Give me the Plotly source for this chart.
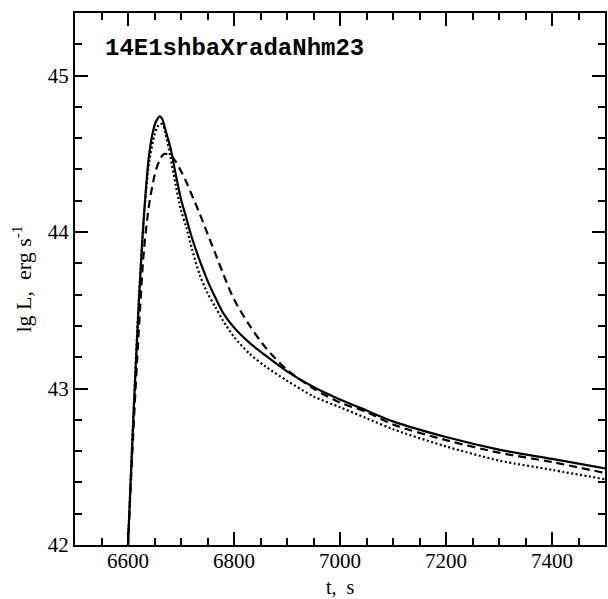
import plotly.graph_objects as go

t = [6597, 6600, 6610, 6620, 6630, 6640, 6650, 6655, 6660, 6665, 6670, 6680, 6690,
     6700, 6710, 6720, 6735, 6750, 6765, 6780, 6800, 6830, 6860, 6900, 6950, 7000,
     7050, 7100, 7200, 7300, 7400, 7500]

lum_solid = [41.75, 42.00, 42.80, 43.52, 44.10, 44.50, 44.68, 44.72, 44.74, 44.72, 44.66,
             44.54, 44.37, 44.21, 44.09, 43.97, 43.82, 43.69, 43.58, 43.48, 43.39, 43.29,
             43.21, 43.11, 43.01, 42.93, 42.86, 42.79, 42.69, 42.61, 42.55, 42.49]

lum_dashed = [41.75, 42.00, 42.72, 43.35, 43.88, 44.18, 44.36, 44.42, 44.46, 44.49, 44.50,
              44.49, 44.45, 44.39, 44.32, 44.24, 44.12, 43.99, 43.86, 43.73, 43.57, 43.40,
              43.26, 43.12, 43.00, 42.91, 42.85, 42.77, 42.67, 42.59, 42.53, 42.46]

lum_dotted = [41.75, 42.00, 42.82, 43.54, 44.10, 44.45, 44.62, 44.67, 44.69, 44.69, 44.64,
              44.48, 44.30, 44.14, 44.03, 43.90, 43.73, 43.61, 43.52, 43.43, 43.33, 43.22,
              43.14, 43.05, 42.95, 42.88, 42.81, 42.74, 42.63, 42.54, 42.48, 42.42]

x_ticks = [6600, 6800, 7000, 7200, 7400]
y_ticks = [42, 43, 44, 45]
label_text = "14E1shbaXradaNhm23"

fig = go.Figure()
fig.add_trace(go.Scatter(x=t, y=lum_dotted, mode="lines",
                         line=dict(color="black", width=2.2, dash="2px,2.5px",
                                   shape="spline", smoothing=0.8)))
fig.add_trace(go.Scatter(x=t, y=lum_dashed, mode="lines",
                         line=dict(color="black", width=2.2, dash="8px,5px",
                                   shape="spline", smoothing=0.8)))
fig.add_trace(go.Scatter(x=t, y=lum_solid, mode="lines",
                         line=dict(color="black", width=2.2,
                                   shape="spline", smoothing=0.8)))

tickfont = dict(family="Liberation Serif, serif", size=21, color="black")
fig.update_xaxes(range=[6500, 7500], tickvals=x_ticks, ticks="inside", ticklen=13,
                 tickwidth=1.5, tickcolor="black", showline=True, linecolor="black",
                 linewidth=2, mirror="ticks", showgrid=False, zeroline=False,
                 tickfont=tickfont, ticklabelstandoff=-4,
                 minor=dict(dtick=50, tick0=6500, ticks="inside", ticklen=7,
                            tickwidth=1.5, tickcolor="black", showgrid=False))
fig.update_yaxes(range=[42, 45.4], tickvals=y_ticks, ticks="inside", ticklen=13,
                 tickwidth=1.5, tickcolor="black", showline=True, linecolor="black",
                 linewidth=2, mirror="ticks", showgrid=False, zeroline=False,
                 tickfont=tickfont,
                 minor=dict(dtick=0.2, tick0=42, ticks="inside", ticklen=7,
                            tickwidth=1.5, tickcolor="black", showgrid=False),
                 title=dict(text="lg L,  erg s<sup>-1</sup>", font=dict(
                     family="Liberation Serif, serif", size=22, color="black"), standoff=10))

fig.add_annotation(text="t,  s", xref="paper", yref="paper", x=0.5, y=-0.1015,
                   xanchor="center", yanchor="bottom", showarrow=False, borderpad=0,
                   font=dict(family="Liberation Serif, serif", size=20, color="black"))

fig.add_annotation(text="<b>" + label_text + "</b>", xref="paper", yref="paper",
                   x=0.052, y=0.934, xanchor="left", yanchor="middle", showarrow=False,
                   font=dict(family="Liberation Mono, Courier New, monospace", size=24,
                             color="black"))

fig.update_layout(width=608, height=599, margin=dict(l=75, r=1, t=13, b=54),
                  plot_bgcolor="white", paper_bgcolor="white", showlegend=False)

fig.write_html("out.html")
